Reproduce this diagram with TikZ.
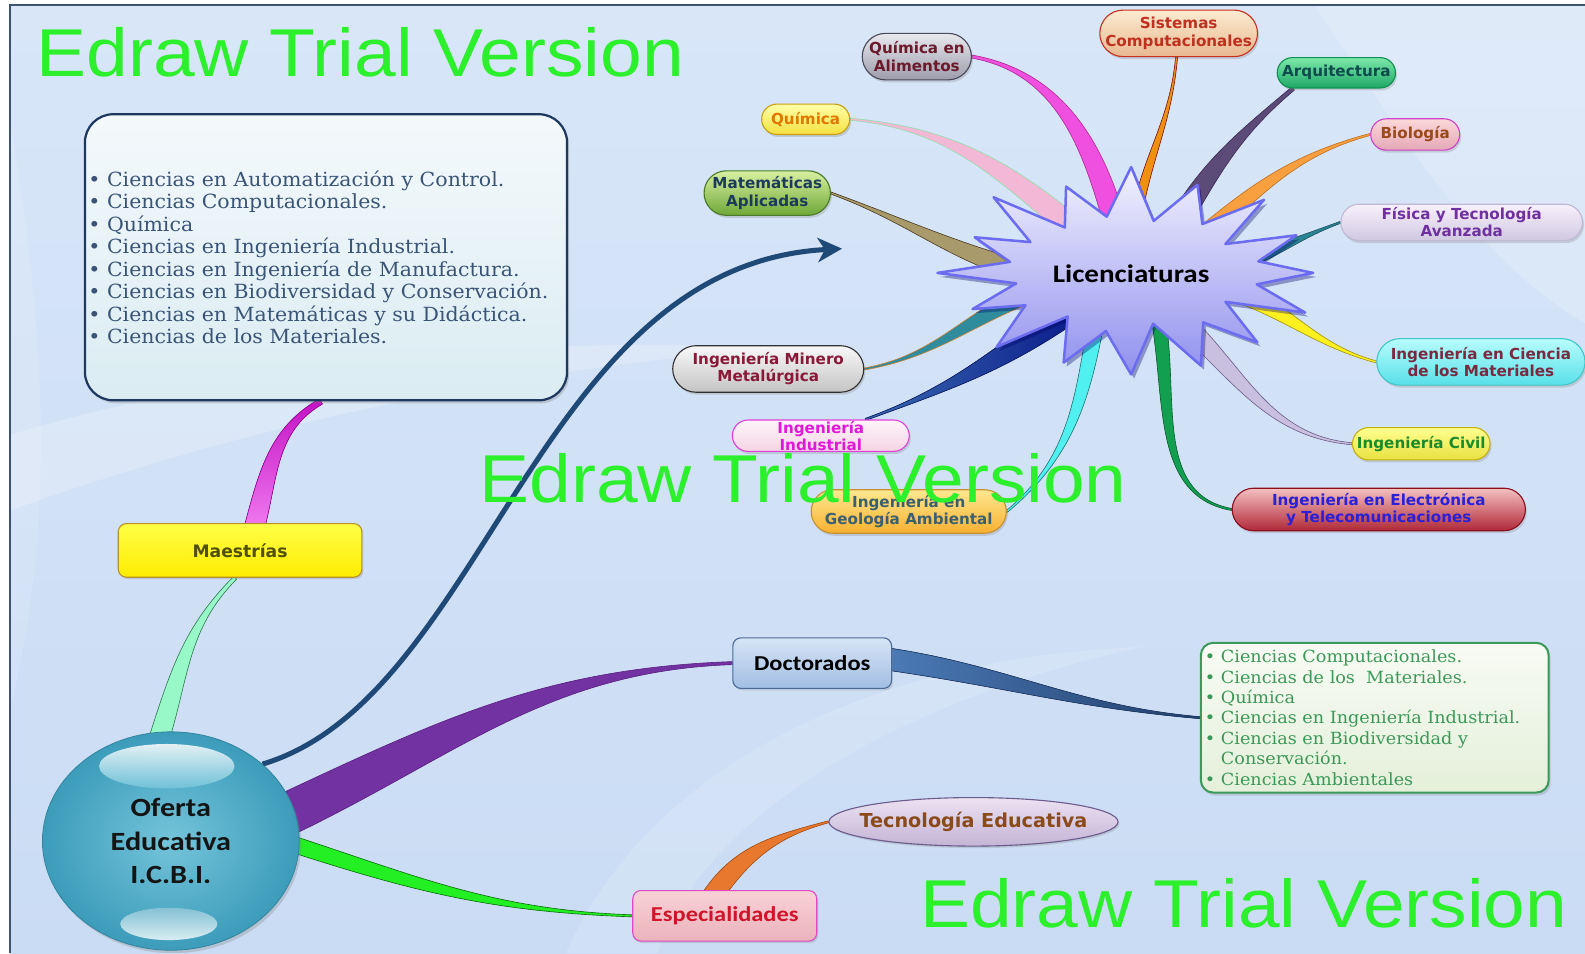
\documentclass[tikz,border=0pt]{standalone}
\usepackage{fontspec}
\setmainfont{DejaVu Serif}
\newfontfamily\labfont{DejaVu Sans}
\newfontfamily\calfont{Carlito}[FakeStretch=1.15]
\newfontfamily\listfont{DejaVu Serif}[FakeStretch=1.05]
\newfontfamily\wmfont{Liberation Sans}[FakeStretch=1.107]
\usetikzlibrary{calc,shapes.geometric,shadows,arrows.meta}
\pgfdeclarelayer{back}
\pgfdeclarelayer{links}
\pgfsetlayers{back,links,main}

% palette
\definecolor{bgtop}{HTML}{D8E6F8}
\definecolor{bgbot}{HTML}{CADCF4}
\definecolor{framec}{HTML}{3C5470}
\definecolor{wmgreen}{HTML}{2CF02C}
\definecolor{ofeA}{HTML}{74C4DA}
\definecolor{ofeB}{HTML}{3C9CBA}
\definecolor{arrowc}{HTML}{1F4A78}
\definecolor{starA}{HTML}{F2F2FE}
\definecolor{starB}{HTML}{C8C8F6}
\definecolor{starC}{HTML}{9090EE}
\definecolor{starline}{HTML}{6C6CF0}

% tapered branch: style, thick start, out angle, thin end, in angle, start half width, end half width
\newcommand\branch[7]{%
  \filldraw[line width=0.6pt,line join=round,#1]
    ($(#2)+(#3+90:#6pt)$) to[out=#3,in=#5] ($(#4)+(#5-90:#7pt)$)
    -- ($(#4)+(#5+90:#7pt)$) to[out=#5,in=#3] ($(#2)+(#3-90:#6pt)$) -- cycle;}

\begin{document}
\begin{tikzpicture}[x=1pt,y=-1pt,
  pill/.style={rectangle, line width=1.1pt, align=center, inner sep=0pt,
    font=\labfont\bfseries\fontsize{15}{17}\selectfont,
    drop shadow={opacity=0.28,shadow xshift=1.5pt,shadow yshift=-2.5pt}},
  pillsize/.style n args={3}{minimum width=#1pt, minimum height=#2pt, rounded corners=#3pt},
  tone/.style n args={4}{top color=#1,bottom color=#2,draw=#3,text=#4},
  box/.style={rectangle, rounded corners=8pt, line width=1.1pt, align=center,
    inner sep=2pt, drop shadow={opacity=0.25,shadow xshift=1.5pt,shadow yshift=-2pt}},
  wmark/.style={anchor=base west, inner sep=0pt,
    font=\wmfont\fontsize{67}{67}\selectfont, text=wmgreen}]

\useasboundingbox (0,0) rectangle (1568,943);

% ---------- background ----------
\begin{pgfonlayer}{back}
  \fill[white] (0,0) rectangle (1568,943);
  \shade[top color=bgtop,bottom color=bgbot] (10,5) rectangle (1568,943);
  \fill[white,opacity=0.22] (10,430) .. controls (250,360) and (520,330) .. (760,345)
     .. controls (520,365) and (260,415) .. (10,505) -- cycle;
  \fill[white,opacity=0.15] (560,943) .. controls (640,760) and (860,650) .. (1130,640)
     .. controls (900,690) and (700,800) .. (650,943) -- cycle;
  \fill[white,opacity=0.18] (1300,5) .. controls (1380,120) and (1450,250) .. (1568,320)
     -- (1568,5) -- cycle;
  \fill[white,opacity=0.12] (10,120) .. controls (40,300) and (60,500) .. (10,700) -- cycle;
  \draw[framec,line width=1.3pt] (10,943) -- (10,5) -- (1568,5);
\end{pgfonlayer}

% ---------- central topic ----------
\node[ellipse, minimum width=254pt, minimum height=216pt, inner sep=0pt,
  inner color=ofeA, outer color=ofeB, draw=ofeB!85!black, line width=0.8pt,
  align=center, font=\calfont\bfseries\fontsize{26}{33.5}\selectfont, text=black!92,
  drop shadow={opacity=0.3,shadow xshift=2pt,shadow yshift=-3pt}]
  (ofe) at (169,832) {Oferta\\Educativa\\I.C.B.I.};
\shade[top color=white, bottom color=ofeA, opacity=0.85] (165,758) ellipse [x radius=67, y radius=22];
\shade[top color=ofeB!60!white, bottom color=white!85!ofeA, opacity=0.9] (167,914) ellipse [x radius=48, y radius=16];

% ---------- Maestrías ----------
\node[box, minimum width=241pt, minimum height=53pt, top color={rgb,255:red,255;green,255;blue,70},
  bottom color={rgb,255:red,255;green,236;blue,0}, draw={rgb,255:red,184;green,144;blue,42},
  font=\labfont\bfseries\fontsize{17}{20}\selectfont, text={rgb,255:red,80;green,80;blue,12}]
  (maes) at (237.5,544.5) {Maestrías};

\node[rectangle, rounded corners=28pt, minimum width=477pt, minimum height=283pt,
  text width=470pt, inner xsep=3.5pt, align=left,
  top color={rgb,255:red,244;green,249;blue,251}, bottom color={rgb,255:red,218;green,236;blue,242},
  draw={rgb,255:red,30;green,56;blue,96}, line width=2.2pt,
  font=\listfont\fontsize{19.3}{22.3}\selectfont, text={rgb,255:red,58;green,84;blue,120},
  drop shadow={opacity=0.3,shadow xshift=2pt,shadow yshift=-3pt}]
  (mbox) at (322.5,254.5) {%
  •\ Ciencias en Automatización y Control.\\
  •\ Ciencias Computacionales.\\
  •\ Química\\
  •\ Ciencias en Ingeniería Industrial.\\
  •\ Ciencias en Ingeniería de Manufactura.\\
  •\ Ciencias en Biodiversidad y Conservación.\\
  •\ Ciencias en Matemáticas y su Didáctica.\\
  •\ Ciencias de los Materiales.};

% ---------- Doctorados ----------
\node[box, minimum width=157pt, minimum height=50pt,
  top color={rgb,255:red,214;green,228;blue,246}, bottom color={rgb,255:red,162;green,190;blue,226},
  draw={rgb,255:red,74;green,106;blue,152},
  font=\calfont\bfseries\fontsize{21}{24}\selectfont, text=black]
  (doc) at (803.5,656) {Doctorados};

\node[rectangle, rounded corners=12pt, minimum width=344pt, minimum height=148pt,
  text width=336pt, inner xsep=4pt, align=left,
  top color={rgb,255:red,248;green,251;blue,244}, bottom color={rgb,255:red,228;green,240;blue,218},
  draw={rgb,255:red,58;green,154;blue,90}, line width=2pt,
  font=\listfont\fontsize{16.6}{20.2}\selectfont, text={rgb,255:red,60;green,152;blue,88},
  drop shadow={opacity=0.28,shadow xshift=2pt,shadow yshift=-3pt}]
  (dl) at (1360,710) {%
  •\ Ciencias Computacionales.\\
  •\ Ciencias de los\ \ Materiales.\\
  •\ Química\\
  •\ Ciencias en Ingeniería Industrial.\\
  •\ Ciencias en Biodiversidad y\\
  \phantom{•\ }Conservación.\\
  •\ Ciencias Ambientales};

% ---------- Especialidades ----------
\node[box, minimum width=182pt, minimum height=50pt,
  top color={rgb,255:red,248;green,210;blue,214}, bottom color={rgb,255:red,236;green,178;blue,188},
  draw={rgb,255:red,224;green,72;blue,200},
  font=\calfont\bfseries\fontsize{21}{24}\selectfont, text={rgb,255:red,208;green,20;blue,42}]
  (esp) at (717,906) {Especialidades};

\node[ellipse, minimum width=286pt, minimum height=48pt, inner xsep=-30pt, inner ysep=-3pt,
  top color={rgb,255:red,236;green,226;blue,242}, bottom color={rgb,255:red,196;green,180;blue,214},
  draw={rgb,255:red,108;green,92;blue,140}, line width=1.1pt,
  font=\labfont\bfseries\fontsize{19}{22}\selectfont, text={rgb,255:red,138;green,74;blue,26},
  drop shadow={opacity=0.25,shadow xshift=1.5pt,shadow yshift=-2pt}]
  (tec) at (963,813) {Tecnología Educativa};

% ---------- Licenciaturas ----------
\filldraw[draw=starline, line width=2.5pt, line join=round,
  top color=starA, middle color=starB, bottom color=starC,
  drop shadow={opacity=0.35,shadow xshift=3pt,shadow yshift=-4pt,fill=blue!40!black}]
  plot[samples at={0,...,31}, variable=\k]
  ({1119+ifthenelse(mod(\k,2)==0,180,120)*(1+0.07*sin(\k*97))*cos(\k*11.25)},
   {270-ifthenelse(mod(\k,2)==0,99,55)*(1+0.07*sin(\k*97))*sin(\k*11.25)}) -- cycle;
\node[font=\calfont\bfseries\fontsize{25}{30}\selectfont, text=black] (lic) at (1119,271) {Licenciaturas};

\node[pill, pillsize={108}{46}{23}, tone={{rgb,255:red,232;green,232;blue,238}}{{rgb,255:red,156;green,156;blue,172}}{{rgb,255:red,74;green,74;blue,90}}{{rgb,255:red,106;green,26;blue,42}}]
  (qalim) at (907,56) {Química en\\Alimentos};
\node[pill, pillsize={156}{46}{23}, tone={{rgb,255:red,252;green,235;blue,208}}{{rgb,255:red,232;green,184;blue,144}}{{rgb,255:red,200;green,48;blue,32}}{{rgb,255:red,192;green,48;blue,30}}]
  (sisc) at (1166,33) {Sistemas\\Computacionales};
\node[pill, pillsize={117}{30}{15}, tone={{rgb,255:red,124;green,232;blue,168}}{{rgb,255:red,30;green,168;blue,104}}{{rgb,255:red,16;green,144;blue,80}}{{rgb,255:red,14;green,74;blue,78}}]
  (arq) at (1322,72) {Arquitectura};
\node[pill, pillsize={87}{30}{15}, tone={{rgb,255:red,255;green,255;blue,168}}{{rgb,255:red,244;green,224;blue,64}}{{rgb,255:red,200;green,160;blue,16}}{{rgb,255:red,224;green,120;blue,0}}]
  (quim) at (797,118) {Química};
\node[pill, pillsize={88}{31}{15.5}, tone={{rgb,255:red,252;green,216;blue,216}}{{rgb,255:red,228;green,168;blue,184}}{{rgb,255:red,208;green,64;blue,200}}{{rgb,255:red,154;green,74;blue,26}}]
  (bio) at (1400,133) {Biología};
\node[pill, pillsize={125}{44}{22}, tone={{rgb,255:red,216;green,240;blue,160}}{{rgb,255:red,110;green,168;blue,56}}{{rgb,255:red,74;green,122;blue,40}}{{rgb,255:red,28;green,58;blue,92}}]
  (mate) at (759,191) {Matemáticas\\Aplicadas};
\node[pill, pillsize={239}{36}{18}, tone={{rgb,255:red,248;green,240;blue,252}}{{rgb,255:red,208;green,200;blue,224}}{{rgb,255:red,192;green,184;blue,212}}{{rgb,255:red,112;green,48;blue,160}}]
  (fis) at (1446,220) {Física y Tecnología\\Avanzada};
\node[pill, pillsize={189}{46}{23}, tone={{rgb,255:red,248;green,248;blue,248}}{{rgb,255:red,196;green,196;blue,196}}{{rgb,255:red,48;green,48;blue,48}}{{rgb,255:red,138;green,24;blue,56}}]
  (minero) at (760,365) {Ingeniería Minero\\Metalúrgica};
\node[pill, pillsize={175}{31}{15.5}, tone={{rgb,255:red,255;green,244;blue,250}}{{rgb,255:red,244;green,212;blue,228}}{{rgb,255:red,224;green,64;blue,216}}{{rgb,255:red,224;green,24;blue,216}}, inner ysep=-3pt]
  (indus) at (812,431) {Ingeniería\\Industrial};
\node[pill, pillsize={193}{43}{21.5}, tone={{rgb,255:red,255;green,232;blue,144}}{{rgb,255:red,248;green,176;blue,48}}{{rgb,255:red,200;green,144;blue,48}}{{rgb,255:red,58;green,96;blue,112}}]
  (geo) at (899,506) {Ingeniería en\\Geología Ambiental};
\node[pill, pillsize={206}{46}{23}, tone={{rgb,255:red,184;green,252;blue,252}}{{rgb,255:red,88;green,224;blue,232}}{{rgb,255:red,64;green,200;blue,200}}{{rgb,255:red,122;green,42;blue,64}}]
  (icm) at (1465,358) {Ingeniería en Ciencia\\de los Materiales};
\node[pill, pillsize={136}{32}{16}, tone={{rgb,255:red,255;green,255;blue,144}}{{rgb,255:red,232;green,224;blue,64}}{{rgb,255:red,200;green,176;blue,16}}{{rgb,255:red,26;green,138;blue,42}}]
  (civil) at (1406,439) {Ingeniería Civil};
\node[pill, pillsize={290}{42}{21}, tone={{rgb,255:red,244;green,192;blue,192}}{{rgb,255:red,176;green,40;blue,56}}{{rgb,255:red,138;green,16;blue,32}}{{rgb,255:red,42;green,32;blue,216}}]
  (elec) at (1364,504) {Ingeniería en Electrónica\\y Telecomunicaciones};

% ---------- branch roots ----------
\coordinate (rMaes) at ($(ofe)+(-13,-97)$);
\coordinate (rDoc)  at ($(ofe)+(101,-20)$);
\coordinate (rEsp)  at ($(ofe)+(111,0)$);
\coordinate (rBox)  at ($(maes)+(14,-22)$);
\coordinate (rDl)   at ($(doc)+(68,-5)$);
\coordinate (rTec)  at ($(esp)+(-12,-20)$);
\coordinate (r1)  at ($(lic)+(-14,-42)$);
\coordinate (r2)  at ($(lic)+(5,-55)$);
\coordinate (r3)  at ($(lic)+(42,-42)$);
\coordinate (r4)  at ($(lic)+(57,-26)$);
\coordinate (r5)  at ($(lic)+(-44,-34)$);
\coordinate (r6)  at ($(lic)+(-97,0)$);
\coordinate (r7)  at ($(lic)+(91,-6)$);
\coordinate (r8)  at ($(lic)+(-89,15)$);
\coordinate (r9)  at ($(lic)+(-55,32)$);
\coordinate (r10) at ($(lic)+(-33,38)$);
\coordinate (r11) at ($(lic)+(83,11)$);
\coordinate (r12) at ($(lic)+(38,36)$);
\coordinate (r13) at ($(lic)+(27,45)$);
\coordinate (tip) at (833,246);

% ---------- branches ----------
\begin{pgfonlayer}{links}
  \branch{fill={rgb,255:red,152;green,248;blue,200},draw={rgb,255:red,42;green,122;blue,74}}{rMaes}{72}{maes.260}{-135}{10}{2}
  \branch{top color={rgb,255:red,196;green,18;blue,196},bottom color={rgb,255:red,240;green,124;blue,240},draw={rgb,255:red,150;green,0;blue,150}}{rBox}{75}{mbox.268}{-150}{10}{3}
  \branch{fill={rgb,255:red,114;green,50;blue,162},draw={rgb,255:red,90;green,32;blue,128}}{rDoc}{25}{doc.west}{182}{21}{1.5}
  \branch{fill={rgb,255:red,34;green,240;blue,34},draw={rgb,255:red,10;green,106;blue,10}}{rEsp}{-18}{esp.west}{178}{8}{1}
  \branch{left color={rgb,255:red,76;green,124;blue,184},right color={rgb,255:red,35;green,64;blue,110},draw={rgb,255:red,30;green,56;blue,100}}{rDl}{-8}{dl.west}{175}{11}{1}
  \branch{fill={rgb,255:red,232;green,120;blue,46},draw={rgb,255:red,160;green,74;blue,16}}{rTec}{55}{tec.west}{195}{10}{1}

  \branch{fill={rgb,255:red,240;green,80;blue,224},draw={rgb,255:red,176;green,40;blue,144}}{r1}{105}{qalim.east}{-10}{11}{1.5}
  \branch{fill={rgb,255:red,240;green,144;blue,16},draw={rgb,255:red,122;green,16;blue,16}}{r2}{80}{sisc.265}{-95}{5}{1}
  \branch{fill={rgb,255:red,92;green,74;blue,120},draw={rgb,255:red,58;green,42;blue,80}}{r3}{60}{arq.200}{-140}{11}{2}
  \branch{fill={rgb,255:red,248;green,160;blue,64},draw={rgb,255:red,192;green,112;blue,32}}{r4}{40}{bio.west}{195}{9}{1}
  \branch{fill={rgb,255:red,242;green,184;blue,214},draw={rgb,255:red,144;green,224;blue,168}}{r5}{140}{quim.east}{-5}{12}{1}
  \branch{fill={rgb,255:red,168;green,154;blue,106},draw={rgb,255:red,74;green,58;blue,32}}{r6}{165}{mate.east}{-20}{10}{1}
  \branch{fill={rgb,255:red,42;green,132;blue,148},draw={rgb,255:red,26;green,80;blue,96}}{r7}{15}{fis.west}{200}{8}{1}
  \branch{fill={rgb,255:red,46;green,140;blue,156},draw={rgb,255:red,208;green,128;blue,48}}{r8}{200}{minero.east}{10}{9}{1}
  \branch{left color={rgb,255:red,58;green,106;blue,176},right color={rgb,255:red,10;green,26;blue,138},draw={rgb,255:red,10;green,26;blue,96}}{r9}{215}{indus.20}{20}{13}{1}
  \branch{fill={rgb,255:red,80;green,240;blue,240},draw={rgb,255:red,32;green,112;blue,112}}{r10}{-100}{geo.east}{40}{8}{1}
  \branch{fill={rgb,255:red,255;green,240;blue,32},draw={rgb,255:red,160;green,144;blue,16}}{r11}{-15}{icm.west}{165}{10}{1}
  \branch{fill={rgb,255:red,200;green,192;blue,222},draw={rgb,255:red,106;green,90;blue,138}}{r12}{-40}{civil.west}{175}{10}{1}
  \branch{fill={rgb,255:red,18;green,160;blue,80},draw={rgb,255:red,10;green,90;blue,42}}{r13}{-80}{elec.west}{170}{7}{1}

  % curved arrow from the central topic
  \draw[line width=5pt, draw=arrowc, -{Stealth[length=24pt,width=24pt,inset=7pt]}]
    (ofe.40) .. controls (480,690) and (530,262) .. (tip);
\end{pgfonlayer}

% ---------- watermark text ----------
\node[wmark] (wm1) at (36,76) {Edraw Trial Version};
\node[wmark] (wm2) at (474,497) {Edraw Trial Version};
\node[wmark] (wm3) at (910,918) {Edraw Trial Version};

\end{tikzpicture}
\end{document}
